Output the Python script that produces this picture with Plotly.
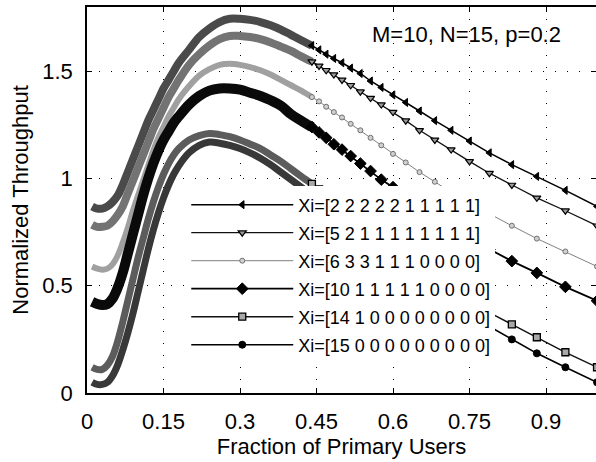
import plotly.graph_objects as go

# ---------------- data ----------------
x_vals = [0.01, 0.02, 0.03, 0.04, 0.05, 0.06, 0.07, 0.08, 0.09, 0.10,
          0.11, 0.12, 0.13, 0.14, 0.15, 0.16, 0.17, 0.18, 0.20, 0.22,
          0.24, 0.26, 0.28, 0.30, 0.32, 0.34, 0.36, 0.38, 0.40, 0.42,
          0.441, 0.455, 0.469, 0.484, 0.5, 0.517, 0.536, 0.556, 0.577, 0.6,
          0.625, 0.652, 0.682, 0.714, 0.75, 0.789, 0.833, 0.882, 0.938, 1.0]

y_xi_a = [0.87, 0.86, 0.86, 0.87, 0.89, 0.92, 0.97, 1.03, 1.09, 1.15,
          1.21, 1.27, 1.32, 1.37, 1.42, 1.46, 1.50, 1.54, 1.60, 1.66,
          1.70, 1.73, 1.745, 1.745, 1.74, 1.73, 1.715, 1.695, 1.67, 1.645,
          1.62, 1.60, 1.58, 1.56, 1.54, 1.515, 1.49, 1.455, 1.425, 1.39,
          1.355, 1.315, 1.27, 1.225, 1.175, 1.12, 1.065, 1.01, 0.945, 0.87]

y_xi_b = [0.785, 0.775, 0.775, 0.78, 0.80, 0.83, 0.87, 0.93, 0.99, 1.05,
          1.11, 1.17, 1.23, 1.28, 1.33, 1.38, 1.42, 1.46, 1.53, 1.58,
          1.62, 1.65, 1.665, 1.665, 1.66, 1.65, 1.635, 1.615, 1.595, 1.57,
          1.545, 1.525, 1.505, 1.485, 1.46, 1.435, 1.405, 1.375, 1.345, 1.31,
          1.27, 1.225, 1.18, 1.135, 1.08, 1.025, 0.97, 0.91, 0.85, 0.78]

y_xi_c = [0.59, 0.58, 0.575, 0.58, 0.60, 0.64, 0.70, 0.77, 0.85, 0.92,
          0.99, 1.06, 1.13, 1.19, 1.24, 1.29, 1.33, 1.37, 1.43, 1.48,
          1.51, 1.53, 1.535, 1.53, 1.52, 1.505, 1.485, 1.46, 1.435, 1.41,
          1.38, 1.36, 1.335, 1.31, 1.285, 1.255, 1.225, 1.19, 1.155, 1.115,
          1.075, 1.03, 0.985, 0.935, 0.885, 0.835, 0.78, 0.72, 0.66, 0.59]

y_xi_d = [0.425, 0.415, 0.41, 0.415, 0.44, 0.49, 0.56, 0.65, 0.74, 0.83,
          0.92, 1.00, 1.07, 1.13, 1.18, 1.22, 1.26, 1.29, 1.345, 1.385,
          1.41, 1.42, 1.42, 1.415, 1.40, 1.385, 1.365, 1.34, 1.30, 1.27,
          1.24, 1.215, 1.19, 1.16, 1.135, 1.105, 1.07, 1.035, 0.995, 0.96,
          0.915, 0.87, 0.82, 0.77, 0.72, 0.67, 0.615, 0.56, 0.495, 0.43]

y_xi_e = [0.12, 0.11, 0.11, 0.13, 0.17, 0.24, 0.33, 0.43, 0.53, 0.63,
          0.72, 0.81, 0.89, 0.96, 1.02, 1.07, 1.11, 1.14, 1.18, 1.20,
          1.21, 1.205, 1.195, 1.18, 1.16, 1.14, 1.11, 1.08, 1.045, 1.01,
          0.975, 0.95, 0.925, 0.90, 0.87, 0.84, 0.805, 0.77, 0.73, 0.69,
          0.645, 0.595, 0.545, 0.49, 0.435, 0.375, 0.32, 0.26, 0.19, 0.12]

y_xi_f = [0.05, 0.04, 0.04, 0.05, 0.08, 0.13, 0.20, 0.28, 0.37, 0.47,
          0.57, 0.67, 0.76, 0.84, 0.91, 0.97, 1.02, 1.06, 1.12, 1.155,
          1.17, 1.165, 1.155, 1.14, 1.12, 1.095, 1.065, 1.03, 0.995, 0.96,
          0.925, 0.90, 0.87, 0.845, 0.815, 0.78, 0.745, 0.71, 0.67, 0.63,
          0.585, 0.535, 0.485, 0.43, 0.37, 0.31, 0.25, 0.185, 0.12, 0.05]

series_names = ["Xi=[2 2 2 2 2 1 1 1 1 1]",
                "Xi=[5 2 1 1 1 1 1 1 1 1]",
                "Xi=[6 3 3 1 1 1 0 0 0 0]",
                "Xi=[10 1 1 1 1 1 0 0 0 0]",
                "Xi=[14 1 0 0 0 0 0 0 0 0]",
                "Xi=[15 0 0 0 0 0 0 0 0 0]"]
series_y = [y_xi_a, y_xi_b, y_xi_c, y_xi_d, y_xi_e, y_xi_f]

x_ticks = [0, 0.15, 0.3, 0.45, 0.6, 0.75, 0.9]
x_tick_text = ["0", "0.15", "0.3", "0.45", "0.6", "0.75", "0.9"]
y_ticks = [0, 0.5, 1, 1.5]
y_tick_text = ["0", "0.5", "1", "1.5"]

# ---------------- styles ----------------
SPLIT = 30  # index where the dense (band) part ends and sparse markers begin
band_colors = ["#4a4a4a", "#737373", "#a0a0a0", "#0a0a0a", "#5c5c5c", "#383838"]
band_widths = [8, 8, 6, 10, 7, 7]
line_colors = ["#000000", "#111111", "#808080", "#000000", "#111111", "#000000"]
line_widths = [1.5, 1.3, 1.0, 1.8, 1.4, 1.6]
markers = [
    dict(symbol="triangle-left", size=7, color="#000000", line=dict(color="#000000", width=1)),
    dict(symbol="triangle-down", size=7, color="#9a9a9a", line=dict(color="#000000", width=1.2)),
    dict(symbol="circle", size=5, color="#d0d0d0", line=dict(color="#707070", width=1)),
    dict(symbol="diamond", size=9, color="#000000", line=dict(color="#000000", width=1)),
    dict(symbol="square", size=7, color="#a8a8a8", line=dict(color="#000000", width=1.3)),
    dict(symbol="circle", size=7, color="#000000", line=dict(color="#000000", width=1)),
]

FONT = "Liberation Sans, Arial, Helvetica, sans-serif"

fig = go.Figure()

for i, (name, ys) in enumerate(zip(series_names, series_y)):
    fig.add_trace(go.Scatter(
        x=x_vals[:SPLIT + 1], y=ys[:SPLIT + 1], mode="lines",
        line=dict(color=band_colors[i], width=band_widths[i], shape="spline"),
        showlegend=False, hoverinfo="skip", legendgroup=f"g{i}"))
    fig.add_trace(go.Scatter(
        x=x_vals[SPLIT:], y=ys[SPLIT:], mode="lines+markers", name=name,
        line=dict(color=line_colors[i], width=line_widths[i]),
        marker=markers[i], legendgroup=f"g{i}"))

fig.add_annotation(text="M=10, N=15, p=0.2", xref="paper", yref="paper",
                   x=0.745, y=0.93, xanchor="center", yanchor="middle",
                   showarrow=False, font=dict(size=22, color="black", family=FONT))

axis_common = dict(showline=True, linecolor="black", linewidth=1.5, mirror="ticks",
                   ticks="inside", ticklen=5, tickcolor="black", tickwidth=1,
                   showgrid=True, gridcolor="black", gridwidth=1, griddash="1px,11px",
                   zeroline=False, automargin=False,
                   tickfont=dict(size=22, color="black", family=FONT))

fig.update_xaxes(range=[0, 0.998], tickvals=x_ticks, ticktext=x_tick_text,
                 title=dict(text="Fraction of Primary Users", font=dict(size=22, color="black", family=FONT),
                            standoff=4),
                 ticklabelstandoff=8, **axis_common)
fig.update_yaxes(range=[0, 1.8], tickvals=y_ticks, ticktext=y_tick_text,
                 title=dict(text="Normalized Throughput", font=dict(size=22, color="black", family=FONT),
                            standoff=8),
                 ticklabelstandoff=8, **axis_common)

fig.update_layout(
    width=596, height=462,
    margin=dict(l=87, r=0, t=7, b=69, autoexpand=False),
    paper_bgcolor="white", plot_bgcolor="white",
    font=dict(family=FONT, color="black"),
    legend=dict(x=0.195, y=0.535, xanchor="left", yanchor="top",
                bgcolor="white", borderwidth=0, itemwidth=102,
                font=dict(size=18, color="black", family=FONT),
                tracegroupgap=1.6),
)

fig.write_html("out.html", config={"displayModeBar": False},
               post_script="document.body.style.margin='0';document.body.style.overflow='hidden';")
